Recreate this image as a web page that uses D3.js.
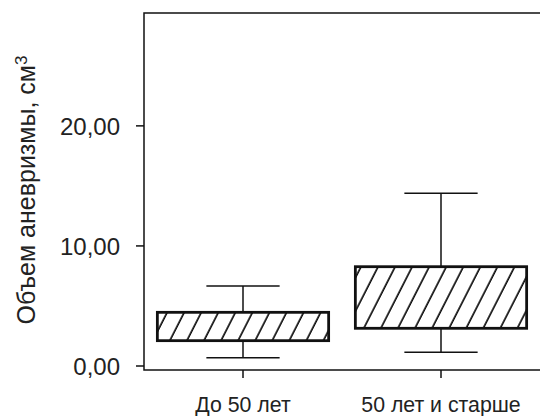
<!DOCTYPE html>
<meta charset="utf-8">
<style>
  body { margin: 0; background: #fff; }
  text { font-family: "Liberation Sans", Arial, sans-serif; fill: #222; }
</style>
<svg width="540" height="416"></svg>
<script src="https://cdn.jsdelivr.net/npm/d3@7"></script>
<script>
  var categories = ["До 50 лет", "50 лет и старше"];
  var q1 = [2.11, 3.14];
  var q3 = [4.47, 8.27];
  var whiskerLow = [0.69, 1.14];
  var whiskerHigh = [6.67, 14.39];
  var yTicks = [0, 10, 20];

  var svg = d3.select("svg"),
    plotLeft = 144, plotRight = 541, plotTop = 13, plotBottom = 370;

  var x = d3.scaleBand()
    .domain(categories)
    .range([144, 540]);
  var y = d3.scaleLinear()
    .domain([0, 29.4])
    .range([366, plotTop]);

  // hatching
  svg.append("defs").append("pattern")
    .attr("id", "hatch")
    .attr("patternUnits", "userSpaceOnUse")
    .attr("width", 15.2)
    .attr("height", 15.2)
    .attr("patternTransform", "rotate(27)")
    .append("line")
    .attr("x1", 2).attr("y1", -1)
    .attr("x2", 2).attr("y2", 16.2)
    .attr("stroke", "#000")
    .attr("stroke-width", 1.6);

  // frame
  svg.append("rect")
    .attr("x", plotLeft).attr("y", plotTop)
    .attr("width", plotRight - plotLeft).attr("height", plotBottom - plotTop)
    .attr("fill", "none")
    .attr("stroke", "#111")
    .attr("stroke-width", 1.5);

  // y axis ticks
  var yt = svg.append("g");
  yt.selectAll("line").data(yTicks).enter().append("line")
    .attr("x1", 136).attr("x2", plotLeft)
    .attr("y1", function(d) { return y(d); })
    .attr("y2", function(d) { return y(d); })
    .attr("stroke", "#111").attr("stroke-width", 1.5);
  yt.selectAll("text").data(yTicks).enter().append("text")
    .attr("x", 120)
    .attr("y", function(d) { return y(d); })
    .attr("dy", "0.36em")
    .attr("text-anchor", "end")
    .style("font-size", "24px")
    .text(function(d) { return d3.format(".2f")(d).replace(".", ","); });

  // x axis ticks
  function cx(d) { return x(d) + x.bandwidth() / 2; }
  var xt = svg.append("g");
  xt.selectAll("line").data(categories).enter().append("line")
    .attr("x1", cx).attr("x2", cx)
    .attr("y1", plotBottom).attr("y2", 378)
    .attr("stroke", "#111").attr("stroke-width", 1.5);
  xt.selectAll("text").data(categories).enter().append("text")
    .attr("x", cx)
    .attr("y", 412)
    .attr("text-anchor", "middle")
    .style("font-size", "21.3px")
    .text(function(d) { return d; });

  // y title
  var title = svg.append("text")
    .attr("transform", "translate(35,190) rotate(-90)")
    .attr("text-anchor", "middle")
    .style("font-size", "25px");
  title.append("tspan").text("Объем аневризмы, см");
  title.append("tspan").attr("dy", "-0.45em").style("font-size", "17px").text("3");

  // boxes
  var boxW = x.bandwidth() * 0.865, capW = x.bandwidth() * 0.37;
  var g = svg.selectAll(".box").data(categories).enter().append("g").attr("class", "box");

  g.append("line")
    .attr("x1", cx).attr("x2", cx)
    .attr("y1", function(d, i) { return y(whiskerHigh[i]); })
    .attr("y2", function(d, i) { return y(whiskerLow[i]); })
    .attr("stroke", "#111").attr("stroke-width", 1.5);
  g.append("line")
    .attr("x1", function(d) { return cx(d) - capW / 2; })
    .attr("x2", function(d) { return cx(d) + capW / 2; })
    .attr("y1", function(d, i) { return y(whiskerHigh[i]); })
    .attr("y2", function(d, i) { return y(whiskerHigh[i]); })
    .attr("stroke", "#111").attr("stroke-width", 1.5);
  g.append("line")
    .attr("x1", function(d) { return cx(d) - capW / 2; })
    .attr("x2", function(d) { return cx(d) + capW / 2; })
    .attr("y1", function(d, i) { return y(whiskerLow[i]); })
    .attr("y2", function(d, i) { return y(whiskerLow[i]); })
    .attr("stroke", "#111").attr("stroke-width", 1.5);
  g.append("rect")
    .attr("x", function(d) { return cx(d) - boxW / 2; })
    .attr("width", boxW)
    .attr("y", function(d, i) { return y(q3[i]); })
    .attr("height", function(d, i) { return y(q1[i]) - y(q3[i]); })
    .attr("fill", "#fff");
  g.append("rect")
    .attr("x", function(d) { return cx(d) - boxW / 2; })
    .attr("width", boxW)
    .attr("y", function(d, i) { return y(q3[i]); })
    .attr("height", function(d, i) { return y(q1[i]) - y(q3[i]); })
    .attr("fill", "url(#hatch)")
    .attr("stroke", "#111")
    .attr("stroke-width", 2.8);
</script>
